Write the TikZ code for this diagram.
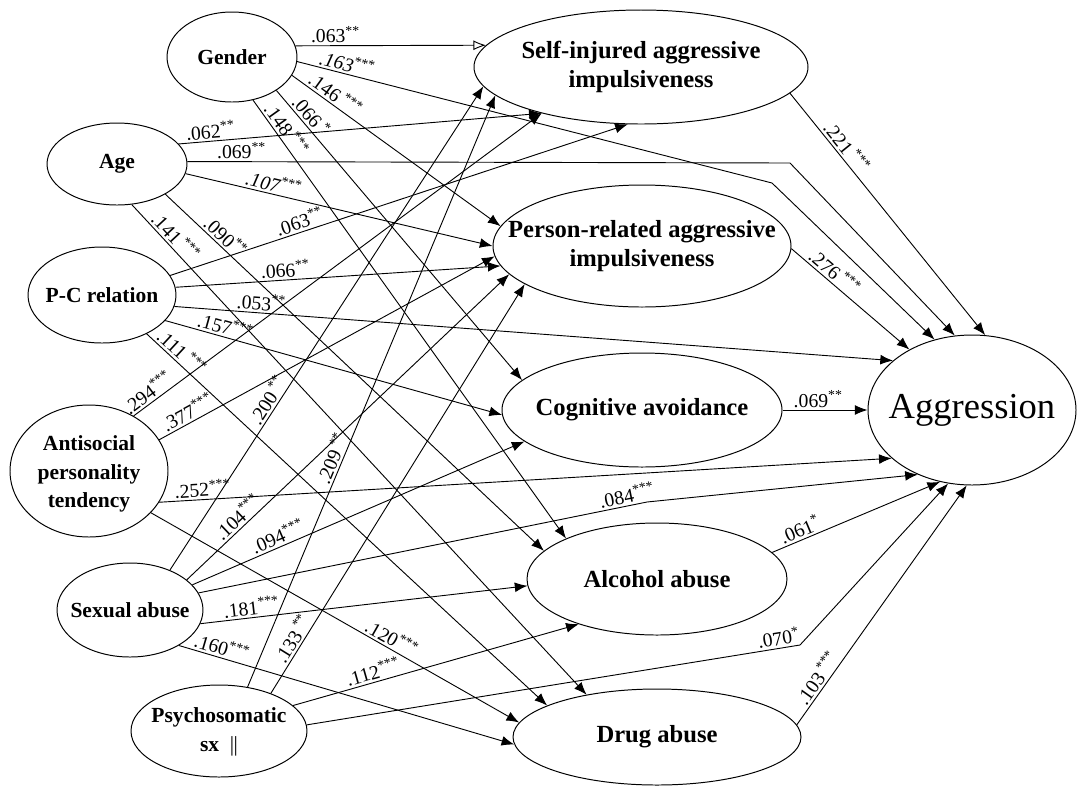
\documentclass[tikz,border=0pt]{standalone}
\usepackage{fontspec}
\setmainfont{Liberation Serif}
\usetikzlibrary{arrows.meta,shapes.geometric}
\begin{document}
\begin{tikzpicture}[x=0.025cm,y=-0.025cm,
  el/.style 2 args={draw, ellipse, line width=0.7pt, inner sep=0pt, minimum width=#1*0.025cm, minimum height=#2*0.025cm},
  nt/.style={font=\fontsize{15.3}{20.5}\selectfont\bfseries, align=center, inner sep=0pt},
  ntm/.style={font=\fontsize{17.5}{20.5}\selectfont\bfseries, align=center, inner sep=0pt},
  ar/.style={line width=0.65pt, -{Latex[length=9pt,width=7pt]}},
  aro/.style={line width=0.65pt, -{Latex[open,length=9pt,width=7pt]}},
  lb/.style={sloped, above, inner sep=1.5pt, font=\fontsize{14}{16}\selectfont},
]
\useasboundingbox (0,0) rectangle (1078,785);

% exogenous variables
\node[el={130}{90}] (gen) at (232,57) {};
\node[nt] (gen-t) at (gen) {Gender};
\node[el={140}{82}] (age) at (117,164) {};
\node[nt] (age-t) at (age) {Age};
\node[el={148}{96}] (pc) at (102,295) {};
\node[nt] (pc-t) at (pc) {P-C relation};
\node[el={158}{132}] (anti) at (89,471) {};
\node[nt] (anti-t) at (89,474) {Antisocial\\personality\\tendency};
\node[el={146}{94}] (sex) at (130,610) {};
\node[nt] (sex-t) at (sex) {Sexual abuse};
\node[el={176}{92}] (psy) at (219,731) {};
\node[nt] (psy-t) at (219,732) {Psychosomatic\\sx\ \ {\mdseries\textbar\kern-0.5pt\textbar}};

% mediators
\node[el={334}{114}] (self) at (641,67) {};
\node[ntm] (self-t) at (self) {Self-injured aggressive\\impulsiveness};
\node[el={298}{122}] (pers) at (642,246) {};
\node[ntm] (pers-t) at (pers) {Person-related aggressive\\impulsiveness};
\node[el={280}{114}] (cog) at (642,410) {};
\node[ntm] (cog-t) at (cog) {Cognitive avoidance};
\node[el={260}{112}] (alc) at (657,579) {};
\node[ntm] (alc-t) at (alc) {Alcohol abuse};
\node[el={288}{96}] (drug) at (657,737) {};
\node[ntm] (drug-t) at (drug) {Drug abuse};

% outcome
\node[el={208}{150}] (agg) at (972,410) {};
\node[font=\fontsize{26}{30}\selectfont, inner sep=0pt] (agg-t) at (972,410) {Aggression};

% bend points
\coordinate (b1) at (772,183);
\coordinate (b2) at (790,163);
\coordinate (b3) at (647,502);
\coordinate (b4) at (800,645);

% Gender
\draw[aro] (gen.10) -- node[lb,pos=.21] (l01) {.063\textsuperscript{**}} (self.172);
\draw[ar] (gen.-4) -- node[lb,pos=.1] (l02) {\textit{.163}\textsuperscript{***}} (b1) -- (agg.118);
\draw[ar] (gen.-17) -- node[lb,pos=.18] (l03) {.146\,\textsuperscript{***}} (pers.172);
\draw[ar] (gen.-37) -- node[lb,pos=.11] (l04) {.066\,\textsuperscript{*}} (cog.166);
\draw[ar] (gen.-64) -- node[lb,pos=.08] (l05) {.148\,\textsuperscript{***}} (alc.156);

% Age
\draw[ar] (age.18) -- node[lb,pos=.09] (l06) {.062\textsuperscript{**}} (self.205);
\draw[ar] (age.2) -- node[lb,pos=.09] (l07) {.069\textsuperscript{**}} (b2) -- (agg.103);
\draw[ar] (age.-8) -- node[lb,pos=.28] (l08) {\textit{.107}\textsuperscript{***}} (pers.180);
\draw[ar] (age.-32) -- node[lb,pos=.14] (l09) {.090\textsuperscript{**}} (alc.166);
\draw[ar] (age.-70) -- node[lb,pos=.08] (l10) {.141\,\textsuperscript{***}} (drug.149);

% P-C relation
\draw[ar] (pc.16) -- node[lb,pos=.29] (l11) {.063\textsuperscript{**}} (self.257);
\draw[ar] (pc.6) -- node[lb,pos=.34] (l12) {.066\textsuperscript{**}} (pers.188);
\draw[ar] (pc.-9) -- node[lb,pos=.12] (l13) {.053\textsuperscript{**}} (agg.148);
\draw[ar] (pc.-22) -- node[lb,pos=.17] (l14) {.157\textsuperscript{***}} (cog.182);
\draw[ar] (pc.-41) -- node[lb,pos=.07] (l15) {.111\,\textsuperscript{***}} (drug.164);

% Antisocial personality tendency
\draw[ar] (anti.51) -- node[lb,pos=.05] (l16) {.294\textsuperscript{***}} (self.205);
\draw[ar] (anti.24) -- node[lb,pos=.1] (l17) {.377\textsuperscript{***}} (pers.184);
\draw[ar] (anti.-24) -- node[lb,pos=.06] (l18) {.252\textsuperscript{***}} (agg.211);
\draw[ar] (anti.-34) -- node[lb,pos=.64] (l19) {.120\textsuperscript{***}} (drug.174);

% Sexual abuse
\draw[ar] (sex.45) -- node[lb,pos=.34] (l20) {.200\,\textsuperscript{**}} (self.187);
\draw[ar] (sex.28) -- node[lb,pos=.18] (l21) {.104\textsuperscript{***}} (pers.192);
\draw[ar] (sex.22) -- node[lb,pos=.27] (l22) {.094\textsuperscript{***}} (cog.195);
\draw[ar] (sex.14) -- node[lb,pos=.96] (l23) {.084\textsuperscript{***}} (b3) -- (agg.230);
\draw[ar] (sex.-11) -- node[lb,pos=.16] (l24) {.181\textsuperscript{***}} (alc.183);
\draw[ar] (sex.-36) -- node[lb,pos=.12] (l25) {.160\textsuperscript{***}} (drug.183);

% Psychosomatic
\draw[ar] (psy.57) -- node[lb,pos=.38] (l26) {.209\,\textsuperscript{**}} (self.191);
\draw[ar] (psy.36) -- node[lb,pos=.12] (l27) {.133\,\textsuperscript{**}} (pers.198);
\draw[ar] (psy.19) -- node[lb,pos=.29] (l28) {.112\textsuperscript{***}} (alc.210);
\draw[ar] (psy.4) -- node[lb,pos=.96] (l29) {.070\textsuperscript{*}} (b4) -- (agg.252);

% mediators to aggression
\draw[ar] (self.-10) -- node[lb,pos=.25] (l30) {.221\,\textsuperscript{***}} (agg.80);
\draw[ar] (pers.-1) -- node[lb,pos=.31] (l31) {.276\,\textsuperscript{***}} (agg.136);
\draw[ar] (cog.0) -- node[lb,pos=.42] (l32) {.069\textsuperscript{**}} (agg.180);
\draw[ar] (alc.13) -- node[lb,pos=.19] (l33) {.061\textsuperscript{*}} (agg.246);
\draw[ar] (drug.5) -- node[lb,pos=.17] (l34) {.103\,\textsuperscript{***}} (agg.266);
\end{tikzpicture}
\end{document}
